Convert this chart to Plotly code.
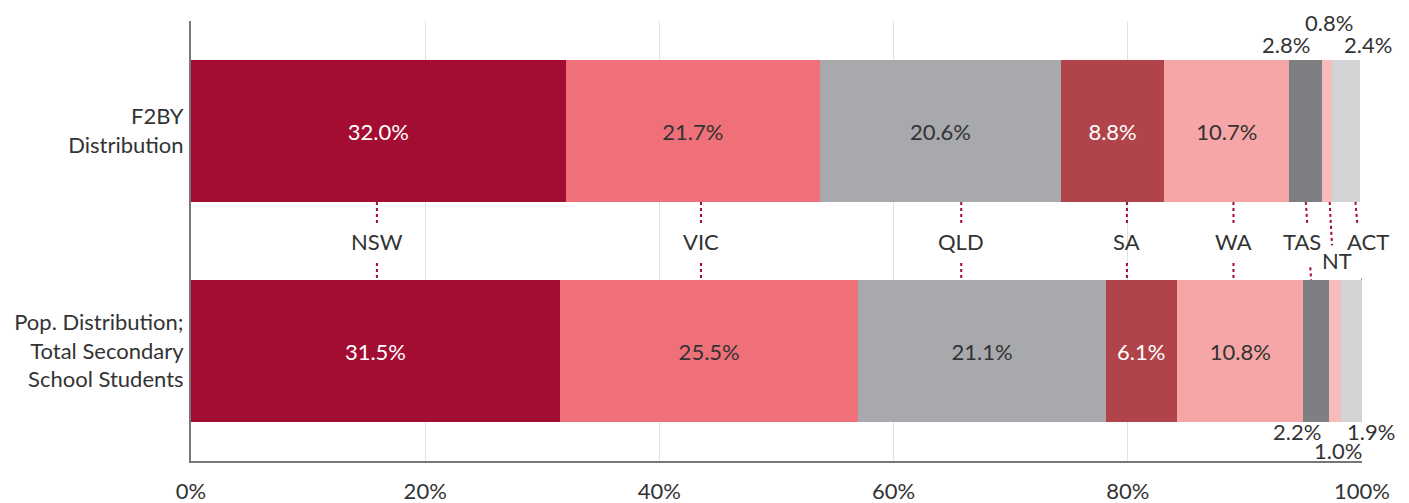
import plotly.graph_objects as go

# ---- data ----
states = ["NSW", "VIC", "QLD", "SA", "WA", "TAS", "NT", "ACT"]
row_labels = ["F2BY<br>Distribution", "Pop. Distribution;<br>Total Secondary<br>School Students"]
f2by = [32.0, 21.7, 20.6, 8.8, 10.7, 2.8, 0.8, 2.4]
pop = [31.5, 25.5, 21.1, 6.1, 10.8, 2.2, 1.0, 1.9]
x_ticks = [0, 20, 40, 60, 80, 100]
x_ticktext = ["0%", "20%", "40%", "60%", "80%", "100%"]

# ---- style ----
colors = ["#A30D31", "#F0707A", "#A8A9AD", "#B1434B", "#F6A6A6", "#7E7F83", "#F8BBBB", "#D2D3D5"]
inside_text_color = ["white", "#333333", "#333333", "white", "#333333", None, None, None]
FONT = "Lato"
TXT = "#333333"
DOT = "#A30D31"
BW = 0.645
fig = go.Figure()

for i, s in enumerate(states):
    txt = None
    if inside_text_color[i]:
        txt = [f"{f2by[i]:.1f}%", f"{pop[i]:.1f}%"]
    fig.add_trace(go.Bar(
        orientation="h", y=[0, 1], x=[f2by[i], pop[i]], name=s,
        marker=dict(color=colors[i], line=dict(width=0)), width=BW,
        text=txt, textposition="inside" if txt else "none",
        insidetextanchor="middle",
        textfont=dict(family=FONT, size=22, color=inside_text_color[i] or TXT),
        hoverinfo="x+name", showlegend=False,
    ))

def cum_mid(vals):
    out, c = [], 0
    for v in vals:
        out.append(c + v / 2)
        c += v
    return out

def cum_edges(vals):
    out, c = [], 0
    for v in vals:
        out.append((c, c + v))
        c += v
    return out

top_mid = cum_mid(f2by)
bot_mid = cum_mid(pop)
top_edges = cum_edges(f2by)
bot_edges = cum_edges(pop)

y_top = BW / 2
y_bot = 1 - BW / 2

def seg(x0, y0, x1, y1):
    fig.add_shape(type="line", xref="x", yref="y", x0=x0, y0=y0, x1=x1, y1=y1,
                  line=dict(color=DOT, width=2, dash="dot"))

annos = []
# large states: vertical connectors at average midpoint
for i in range(5):
    xm = (top_mid[i] + bot_mid[i]) / 2
    seg(xm, y_top, xm, 0.418)
    seg(xm, 0.60, xm, y_bot)
    annos.append(dict(x=xm, y=0.5, text=states[i], showarrow=False,
                      font=dict(family=FONT, size=22, color=TXT)))

# small states: slanted connectors
anchors = {5: (0.5, 0.3), 6: (0.8, 0.4), 7: (0.85, 0.95)}
label_y = {5: 0.5, 6: 0.59, 7: 0.5}
label_shift = {5: -6, 6: 5, 7: 9}
gaps = {5: (0.418, 0.62), 6: (0.52, 0.68), 7: (0.418, 0.62)}
for i, (ft, fb) in anchors.items():
    xa = top_edges[i][0] + ft * f2by[i]
    xb = bot_edges[i][0] + fb * pop[i]
    g0, g1 = gaps[i]
    def xat(y):
        return xa + (xb - xa) * (y - y_top) / (y_bot - y_top)
    if i == 7:
        seg(xa, y_top, xat(0.418), 0.418)
        seg(xat(0.62) + 0.5, 0.62, xb, y_bot)
    else:
        seg(xa, y_top, xat(g0), g0)
        if g1 < y_bot:
            seg(xat(g1), g1, xb, y_bot)
    annos.append(dict(x=(xa + xb) / 2, y=label_y[i], text=states[i], showarrow=False,
                      xshift=label_shift[i],
                      font=dict(family=FONT, size=22, color=TXT)))

# small value labels outside bars
small_top = {5: (-0.391, -20), 6: (-0.495, 2), 7: (-0.391, 22)}
small_bot = {5: (1.368, -19), 6: (1.45, 3), 7: (1.368, 19)}
for i, (yy, xs) in small_top.items():
    annos.append(dict(x=top_mid[i], y=yy, text=f"{f2by[i]:.1f}%", showarrow=False, xshift=xs,
                      font=dict(family=FONT, size=22, color=TXT)))
for i, (yy, xs) in small_bot.items():
    annos.append(dict(x=bot_mid[i], y=yy, text=f"{pop[i]:.1f}%", showarrow=False, xshift=xs,
                      font=dict(family=FONT, size=22, color=TXT)))

fig.update_layout(
    barmode="stack",
    width=1401, height=495,
    margin=dict(l=183, r=47, t=13, b=42),
    paper_bgcolor="white", plot_bgcolor="white",
    font=dict(family=FONT, size=22, color=TXT),
    annotations=annos,
    xaxis=dict(range=[0, 100], tickvals=x_ticks, ticktext=x_ticktext,
               showgrid=True, gridcolor="#E2E2E2", gridwidth=1,
               showline=True, linecolor="#777777", linewidth=2,
               zeroline=False, ticks="", ticklabelstandoff=10, automargin=False,
               tickfont=dict(family=FONT, size=22, color=TXT)),
    yaxis=dict(range=[1.5, -0.5], tickvals=[0, 1], ticktext=row_labels,
               showgrid=False, showline=True, linecolor="#777777", linewidth=2,
               zeroline=False, ticks="", ticklabelstandoff=1, automargin=False,
               tickfont=dict(family=FONT, size=22, color=TXT)),
    uniformtext=dict(mode=False),
)

fig.write_html("out.html")
